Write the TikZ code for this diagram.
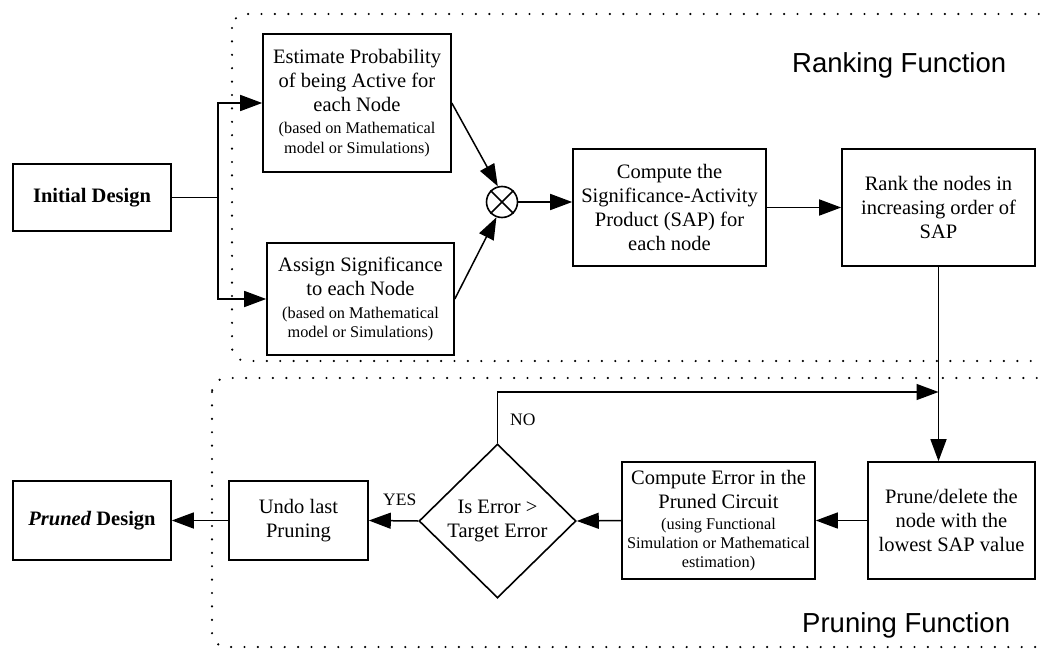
\documentclass[tikz,border=0pt]{standalone}
\usepackage{fontspec}
\setmainfont{Liberation Serif}
\newfontfamily\lsans{Liberation Sans}
\usetikzlibrary{arrows.meta,shapes.geometric}
\newcommand\mfs{\fontsize{20.5}{24}\selectfont}
\newcommand\sfs{\fontsize{16.3}{19.5}\selectfont}
\begin{document}
\begin{tikzpicture}[x=1pt,y=-1pt,
  box/.style={draw,line width=1.6pt,fill=white,inner sep=0pt,align=center,font=\mfs},
  arr/.style={line width=1.5pt,-{Triangle[length=22pt,width=16pt]}},
  ln/.style={line width=1.5pt},
  region/.style={line width=2.4pt,dash pattern=on 0pt off 13.4pt,line cap=round,rounded corners=14pt},
  lbl/.style={font=\lsans\fontsize{27.5}{30}\selectfont,anchor=base west,inner sep=0pt},
  yn/.style={font=\fontsize{17.5}{20}\selectfont,anchor=base west,inner sep=0pt}]
\useasboundingbox (0,0) rectangle (1041,650);
\draw[region] (232,14) rectangle (1075,361);
\draw[region] (212,378) rectangle (1075,647);

\node[box,minimum width=158pt,minimum height=67pt] (init) at (92,197.5) {\textbf{Initial Design}};
\node[box,minimum width=188pt,minimum height=138pt] (est) at (357,103)
  {Estimate Probability\\of being Active for\\each Node\\[-2pt]{\sfs(based on Mathematical}\\[-4pt]{\sfs model or Simulations)}};
\node[box,minimum width=187pt,minimum height=112pt] (asg) at (360.5,299)
  {Assign Significance\\to each Node\\[-1pt]{\sfs(based on Mathematical}\\[-5pt]{\sfs model or Simulations)}};
\node[circle,draw,line width=1.6pt,fill=white,minimum size=31pt,inner sep=0pt] (mul) at (502,202) {};
\draw[line width=1.6pt] (mul.45) -- (mul.225) (mul.135) -- (mul.315);
\node[box,minimum width=193pt,minimum height=117pt] (comp) at (669.5,207.5)
  {Compute the\\Significance-Activity\\Product (SAP) for\\each node};
\node[box,minimum width=193pt,minimum height=117pt] (rank) at (938.5,207.5)
  {Rank the nodes in\\increasing order of\\SAP};
\node[box,minimum width=167pt,minimum height=117pt] (prune) at (951.5,520.5)
  {Prune/delete the\\node with the\\lowest SAP value};
\node[box,minimum width=193pt,minimum height=117pt] (cerr) at (718.5,520.5)
  {Compute Error in the\\Pruned Circuit\\[-3pt]{\sfs(using Functional}\\[-5pt]{\sfs Simulation or Mathematical}\\[-5pt]{\sfs estimation)}};
\node[draw,diamond,line width=1.6pt,fill=white,inner sep=0pt,minimum width=157pt,minimum height=154pt,align=center,font=\mfs] (dia) at (497.5,521)
  {Is Error >\\Target Error};
\node[box,minimum width=139pt,minimum height=79pt] (undo) at (298.5,520.5) {Undo last\\Pruning};
\node[box,minimum width=158pt,minimum height=79pt] (pruned) at (92,520.5) {\textbf{\textit{Pruned} Design}};

\node[lbl] (rf) at (792,73) {Ranking Function};
\node[lbl] (pf) at (802,632) {Pruning Function};
\node[yn] (yes) at (383,505) {YES};
\node[yn] (no) at (510,425) {NO};

\draw[arr] (init.east) -- ++(46,0) |- (est.west);
\draw[arr] (init.east) -- ++(46,0) |- (asg.west);
\draw[arr] (est.east) -- (mul.105);
\draw[arr] (asg.east) -- (mul.250);
\draw[arr] (mul.east) -- (mul.east -| comp.west);
\draw[arr] (comp.east) -- (rank.west);
\coordinate (join) at (rank.south |- 0,392);
\draw[ln] (rank.south) -- (join);
\draw[arr] (join) -- (join |- prune.north);
\draw[arr] (dia.north) |- (join);
\draw[arr] (prune.west) -- (cerr.east);
\draw[arr] (cerr.west) -- (dia.east);
\draw[arr] (dia.west) -- (undo.east);
\draw[arr] (undo.west) -- (pruned.east);
\end{tikzpicture}
\end{document}
